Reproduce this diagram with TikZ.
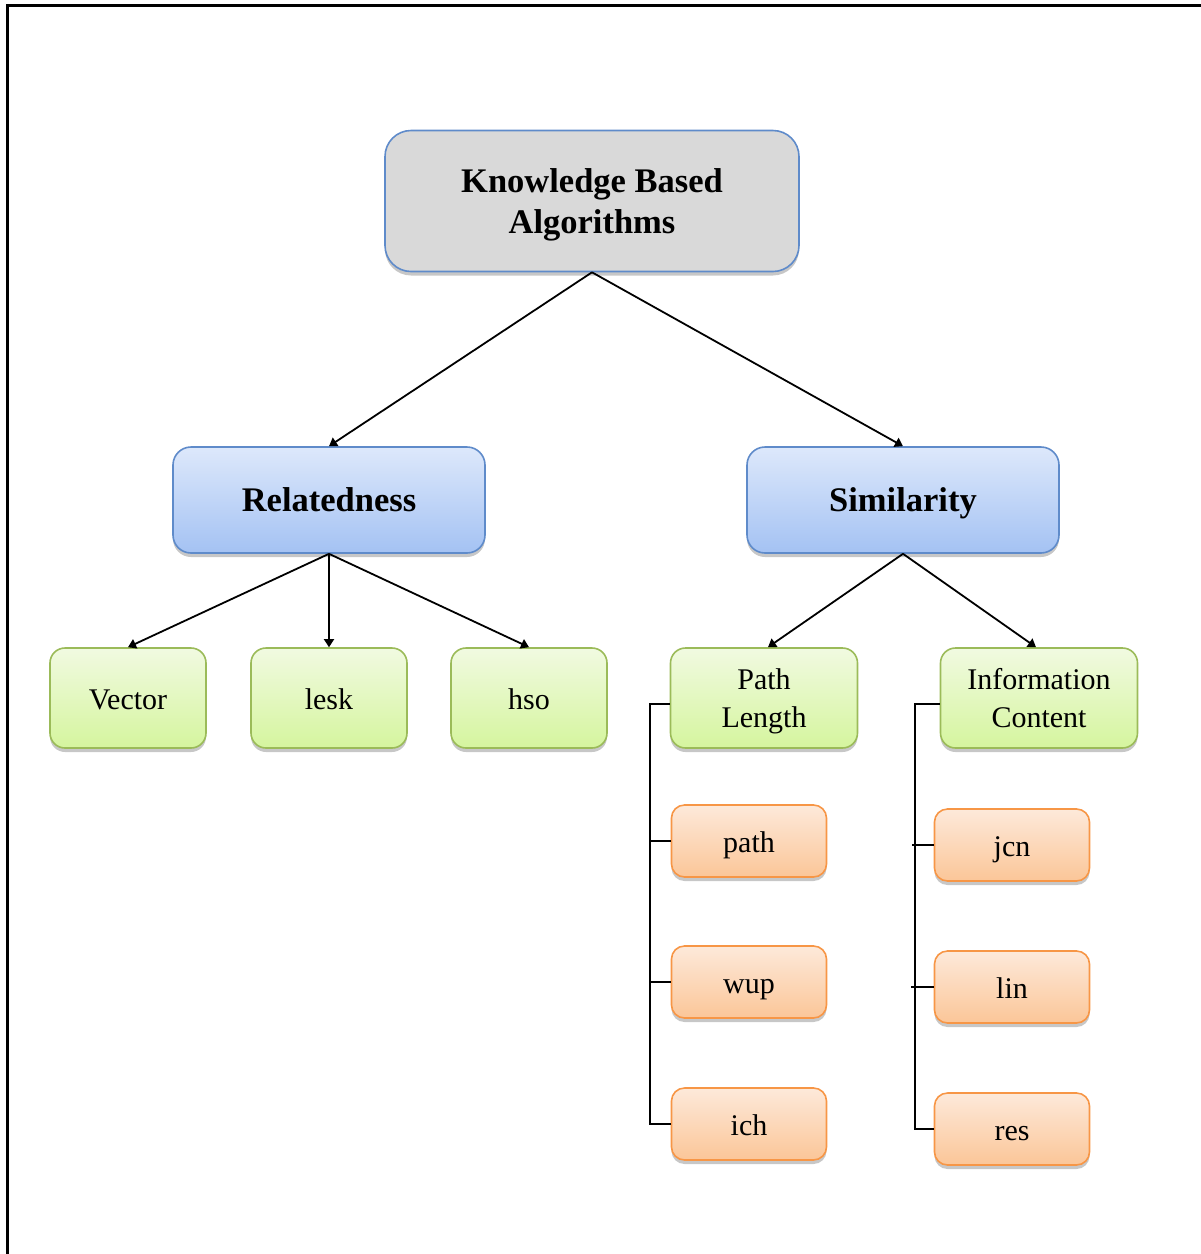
\documentclass[tikz,border=0pt]{standalone}
\usepackage{fontspec}
\setmainfont{Liberation Serif}
\usetikzlibrary{shadows,arrows.meta}
\definecolor{lineblue}{RGB}{95,139,202}
\definecolor{bluetop}{RGB}{221,232,251}
\definecolor{bluebot}{RGB}{164,194,243}
\definecolor{greentop}{RGB}{241,250,225}
\definecolor{greenbot}{RGB}{213,245,158}
\definecolor{greenline}{RGB}{155,187,89}
\definecolor{orangetop}{RGB}{253,233,218}
\definecolor{orangebot}{RGB}{251,198,152}
\definecolor{orangeline}{RGB}{247,150,70}
\begin{document}
\begin{tikzpicture}[x=1pt,y=-1pt,
  boxbase/.style={inner sep=0pt, align=center, line width=1.6pt,
    drop shadow={shadow xshift=0pt, shadow yshift=-4pt, opacity=0.22, fill=black}},
  rootbox/.style={boxbase, rounded corners=26pt, draw=lineblue, fill=black!15,
    minimum width=414pt, minimum height=141pt,
    text depth=-2pt,
    font=\fontsize{34.5}{41}\selectfont\bfseries},
  catbox/.style={boxbase, rounded corners=18pt, draw=lineblue,
    top color=bluetop, bottom color=bluebot,
    minimum width=312pt, minimum height=106pt,
    text height=30pt, text depth=7pt,
    font=\fontsize{34.5}{41}\selectfont\bfseries},
  leafbox/.style={boxbase, rounded corners=15pt, draw=greenline,
    top color=greentop, bottom color=greenbot,
    minimum width=156pt, minimum height=100pt,
    text height=26pt, text depth=3pt,
    font=\fontsize{30}{38}\selectfont},
  twoline/.style={text height=, text depth=-3pt},
  algbox/.style={boxbase, rounded corners=13pt, draw=orangeline,
    top color=orangetop, bottom color=orangebot,
    minimum width=155pt, minimum height=72pt,
    text height=25pt, text depth=3pt,
    font=\fontsize{30}{38}\selectfont},
  arrowline/.style={line width=1.8pt, -{Triangle[length=8pt,width=10pt]}},
  treeline/.style={line width=1.8pt}
]
\useasboundingbox (0,0) rectangle (1201,1254);
% outer frame
\draw[line width=3pt] (1201,5) -- (7,5) -- (7,1254);

% hierarchy
\node[rootbox] (kb) at (592,201) {Knowledge Based\\Algorithms};
\node[catbox] (rel) at (329,500) {Relatedness};
\node[catbox] (sim) at (903,500) {Similarity};

\node[leafbox] (vec) at (128,698) {Vector};
\node[leafbox] (lesk) at (329,698) {lesk};
\node[leafbox] (hso) at (529,698) {hso};
\node[leafbox, twoline, minimum width=187pt] (pl) at (764,698) {Path\\Length};
\node[leafbox, twoline, minimum width=197pt] (ic) at (1039,698) {Information\\Content};

\node[algbox] (path) at (749,841) {path};
\node[algbox] (wup) at (749,982) {wup};
\node[algbox] (ich) at (749,1124) {ich};
\node[algbox] (jcn) at (1012,845) {jcn};
\node[algbox] (lin) at (1012,987) {lin};
\node[algbox] (res) at (1012,1129) {res};

% arrows
\draw[arrowline] (kb.south) -- (rel.north);
\draw[arrowline] (kb.south) -- (sim.north);
\draw[arrowline] (rel.south) -- (vec.north);
\draw[arrowline] (rel.south) -- (lesk.north);
\draw[arrowline] (rel.south) -- (hso.north);
\draw[arrowline] (sim.south) -- ([xshift=4pt]pl.north);
\draw[arrowline] (sim.south) -- ([xshift=-3pt]ic.north);

% bracket lists
\draw[treeline] ([yshift=-6pt]pl.west) -- ++(-20,0) |- (ich.west);
\draw[treeline] (path.west) -- ++(-21,0);
\draw[treeline] (wup.west) -- ++(-21,0);
\draw[treeline] ([yshift=-6pt]ic.west) -- ++(-25,0) |- (res.west);
\draw[treeline] (jcn.west) -- ++(-22,0);
\draw[treeline] (lin.west) -- ++(-23,0);
\end{tikzpicture}
\end{document}
